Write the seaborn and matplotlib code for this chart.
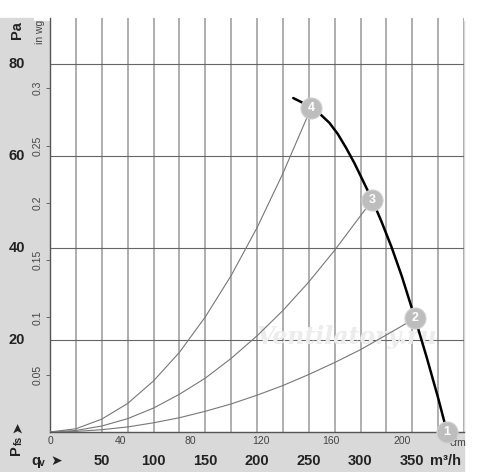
import numpy as np
import pandas as pd
import matplotlib
matplotlib.use('Agg')
import matplotlib.pyplot as plt
import matplotlib.transforms as mtransforms
from matplotlib.patches import Rectangle
import seaborn as sns

sns.set_style('white')
plt.rcParams['font.family'] = ['Liberation Sans', 'DejaVu Sans']

# fan curve (m3/h, Pa)
fan_q = [235, 243, 252.2, 262, 270, 278, 286, 294, 302, 311.4,
         320, 330, 340, 352.7, 364, 375, 383.6]
fan_p = [72.6, 71.7, 70.4, 68.9, 67.2, 64.8, 61.8, 58.5, 54.8, 50.4,
         45.9, 40.2, 33.8, 24.7, 16.2, 7.4, 0.0]

# system curves through the operating points
sys4_q = [0, 25, 50, 75, 100, 125, 150, 175, 200, 225, 252.2]
sys4_p = [0, 0.7, 2.8, 6.2, 11.1, 17.3, 25.0, 34.0, 44.4, 56.2, 70.4]
sys3_q = [0, 25, 50, 75, 100, 125, 150, 175, 200, 225, 250, 275, 300, 311.4]
sys3_p = [0, 0.33, 1.3, 2.9, 5.2, 8.2, 11.7, 16.0, 20.9, 26.4, 32.6, 39.5, 47.0, 50.4]
sys2_q = [0, 25, 50, 75, 100, 125, 150, 175, 200, 225, 250, 275, 300, 325, 352.7]
sys2_p = [0, 0.12, 0.5, 1.1, 2.0, 3.1, 4.5, 6.1, 8.0, 10.1, 12.5, 15.1, 17.9, 21.1, 24.7]

# operating points
pt_label = ['1', '2', '3', '4']
pt_q = [383.6, 352.7, 311.4, 252.2]
pt_p = [0.0, 24.7, 50.4, 70.4]

m3h_ticks = [50, 100, 150, 200, 250, 300, 350]
cfm_ticks = [0, 40, 80, 120, 160, 200]
pa_ticks = [20, 40, 60, 80]
inwg_ticks = [0.05, 0.1, 0.15, 0.2, 0.25, 0.3]

CFM = 1.699
INWG = 249.09

W, H = 500, 472
fig = plt.figure(figsize=(5, 4.72), dpi=100)
x0, x1, y0, y1 = 50, 464, 432, 18
ax = fig.add_axes([x0 / W, 1 - y0 / H, (x1 - x0) / W, (y0 - y1) / H])


def fx(px):
    return px / W


def fy(py):
    return 1 - py / H


# gray bands
band = '#d9d9d9'
fig.patches.append(Rectangle((0, 0), fx(33), fy(18), transform=fig.transFigure,
                             color=band, zorder=-5))
fig.patches.append(Rectangle((0, 0), fx(464), 1 - fy(451), transform=fig.transFigure,
                             color=band, zorder=-5))

for q, p in [(sys4_q, sys4_p), (sys3_q, sys3_p), (sys2_q, sys2_p)]:
    sns.lineplot(x=q, y=p, ax=ax, color='#777777', lw=0.8, sort=False, zorder=3)
sns.lineplot(x=fan_q, y=fan_p, ax=ax, color='black', lw=1.8, sort=False, zorder=4)

pts = pd.DataFrame({'q': pt_q, 'p': pt_p, 'lab': pt_label})
sns.scatterplot(data=pts, x='q', y='p', ax=ax, s=230, color='#bdbdbd',
                edgecolor='#d0d0d0', linewidth=0.8, zorder=5, clip_on=False)
for _, r in pts.iterrows():
    ax.text(r['q'], r['p'], r['lab'], color='white', fontsize=9, fontweight='bold',
            ha='center', va='center', zorder=6, clip_on=False)

ax.text(287, 20.7, 'Ventilatory.ru', fontsize=17, style='italic', fontweight='bold',
        color='#ececec', ha='center', va='center', zorder=1, family='DejaVu Serif')

ax.set_xlim(0, 400)
ax.set_ylim(0, 90)
ax.set_xticks(np.arange(0, 401, 25))
ax.set_yticks(pa_ticks)
ax.set_xticklabels([])
ax.set_yticklabels([])
ax.tick_params(length=0)
ax.xaxis.grid(True, color='#a8a8a8', lw=1.3)
ax.yaxis.grid(True, color='#666666', lw=0.8)
ax.set_xlabel('')
ax.set_ylabel('')
for s in ['top', 'right']:
    ax.spines[s].set_visible(False)
for s in ['left', 'bottom']:
    ax.spines[s].set_color('#555555')
    ax.spines[s].set_linewidth(1.0)

# inch water gauge axis
sec_y = ax.secondary_yaxis('left', functions=(lambda p: p / INWG, lambda w: w * INWG))
sec_y.set_yticks(inwg_ticks)
sec_y.set_yticklabels([str(t) for t in inwg_ticks], rotation=90, va='center')
sec_y.tick_params(length=3, width=0.6, color='#555555', labelsize=7.5,
                  labelcolor='#444444', pad=2)
sec_y.spines['left'].set_visible(False)

# cfm axis
sec_x = ax.secondary_xaxis('bottom', functions=(lambda q: q / CFM, lambda c: c * CFM))
sec_x.set_xticks(cfm_ticks)
sec_x.set_xticklabels([str(t) for t in cfm_ticks])
sec_x.tick_params(length=0, labelsize=7.5, labelcolor='#444444', pad=3)
sec_x.spines['bottom'].set_visible(False)

bx = mtransforms.blended_transform_factory(ax.transData, fig.transFigure)
by = mtransforms.blended_transform_factory(fig.transFigure, ax.transData)

ax.text(386, fy(443), 'cfm', transform=bx, fontsize=7.5, color='#444444',
        ha='left', va='center')
fig.text(fx(40), fy(32), 'in wg', rotation=90, fontsize=7.5, color='#444444',
         ha='center', va='center')

bold = dict(fontweight='bold', color='#222222', ha='center', va='center')
for t in pa_ticks:
    ax.text(fx(17), t, str(t), transform=by, fontsize=10.5, **bold)
fig.text(fx(17), fy(30), 'Pa', rotation=90, fontsize=10.5, **bold)
fig.text(fx(16), fy(450), 'P', rotation=90, fontsize=10.5, **bold)
fig.text(fx(19), fy(440), 'fs', rotation=90, fontsize=7.5, **bold)
fig.text(fx(17), fy(427), '➤', rotation=90, fontsize=10, family='DejaVu Sans', **bold)

for t in m3h_ticks:
    ax.text(t, fy(461), str(t), transform=bx, fontsize=10.5, **bold)
ax.text(382.6, fy(461), 'm³/h', transform=bx, fontsize=10.5, **bold)
fig.text(fx(35.5), fy(461), 'q', fontsize=10.5, **bold)
fig.text(fx(42), fy(463), 'v', fontsize=7.5, **bold)
fig.text(fx(56), fy(461), '➤', fontsize=10, family='DejaVu Sans', **bold)

fig.savefig('out.png', dpi=100)
